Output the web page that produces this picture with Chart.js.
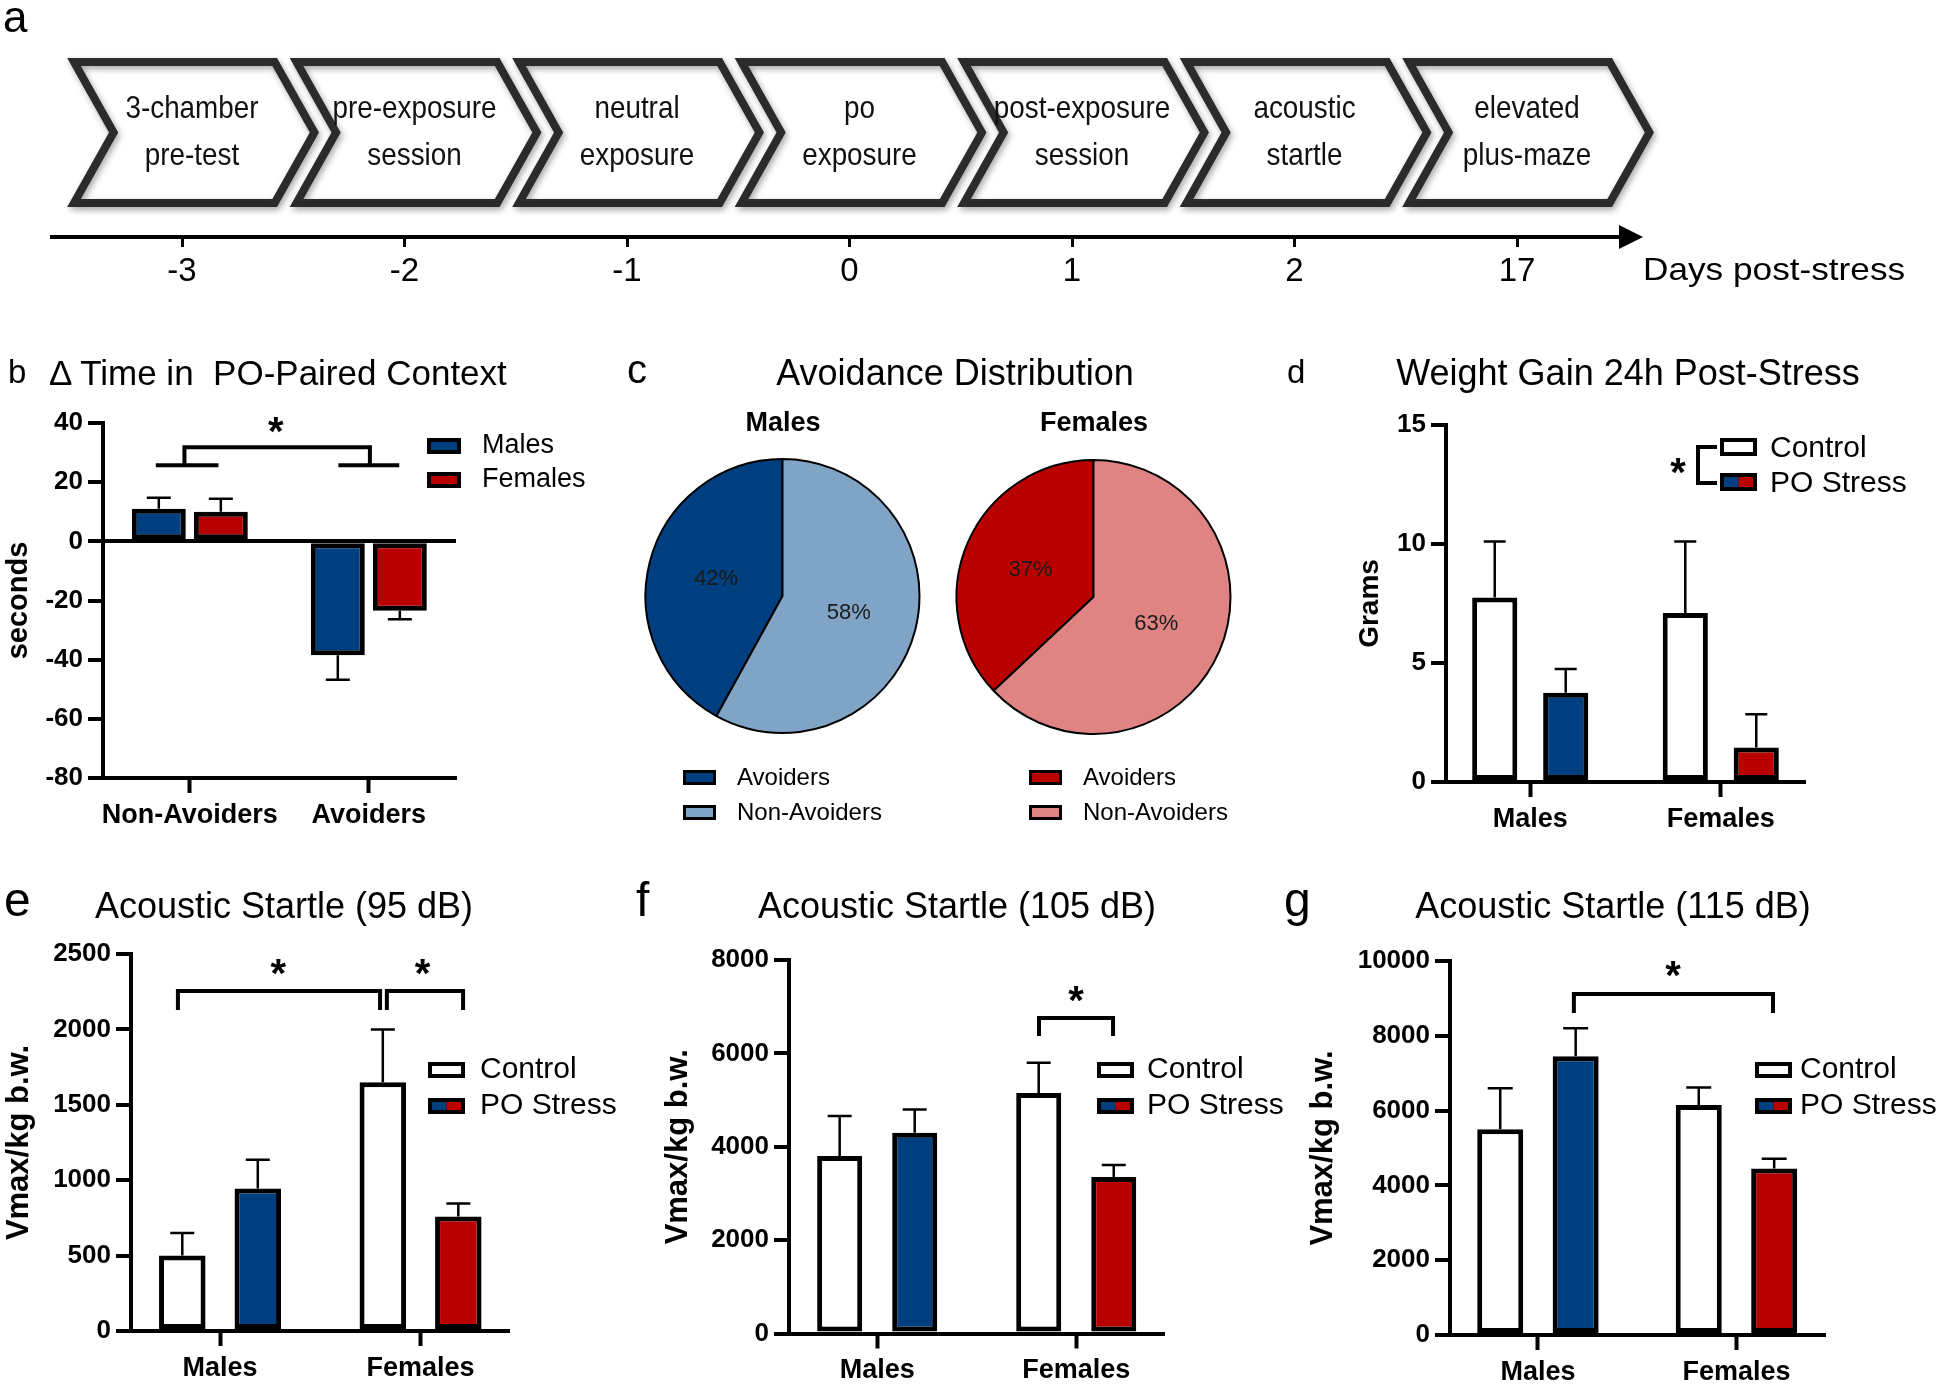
<!DOCTYPE html>
<html lang="en">
<head>
<meta charset="utf-8">
<title>PO stress figure</title>
<script src="https://cdn.jsdelivr.net/npm/chart.js@4.4.1/dist/chart.umd.min.js"></script>
<style>
  html, body { margin: 0; padding: 0; background: #fff; }
  #page { position: relative; width: 1946px; height: 1388px; overflow: hidden; background: #fff;
          font-family: Arial, "Liberation Sans", Helvetica, sans-serif; color: #000; }
  #page canvas { position: absolute; left: 0; top: 0; }
  .txt { position: absolute; white-space: pre; line-height: 1; }
</style>
</head>
<body>
<div id="page">
  <canvas id="chartA" width="1946" height="1388"></canvas>
  <canvas id="chartB" width="1946" height="1388"></canvas>
  <canvas id="chartCm" width="1946" height="1388"></canvas>
  <canvas id="chartCf" width="1946" height="1388"></canvas>
  <canvas id="chartD" width="1946" height="1388"></canvas>
  <canvas id="chartE" width="1946" height="1388"></canvas>
  <canvas id="chartF" width="1946" height="1388"></canvas>
  <canvas id="chartG" width="1946" height="1388"></canvas>
</div>
<script>
// ---- data ----

// a: timeline
const days = ['-3', '-2', '-1', '0', '1', '2', '17'];
const stages = [
  ['3-chamber', 'pre-test'],
  ['pre-exposure', 'session'],
  ['neutral', 'exposure'],
  ['po', 'exposure'],
  ['post-exposure', 'session'],
  ['acoustic', 'startle'],
  ['elevated', 'plus-maze']
];

// b: delta time in PO-paired context
const avoidGroups = ['Non-Avoiders', 'Avoiders'];
const sexLabels = ['Males', 'Females'];
const deltaMales = [11, -38.5];
const deltaMalesSem = [3.7, 8.3];
const deltaFemales = [10, -23.5];
const deltaFemalesSem = [4.4, 2.8];
const deltaTicks = [-80, -60, -40, -20, 0, 20, 40];

// c: avoidance distribution (%)
const pieLabels = ['Avoiders', 'Non-Avoiders'];
const malesPct = [42, 58];
const femalesPct = [37, 63];

// d-g: control vs PO stress
const sexes = ['Males', 'Females'];
const treatments = ['Control', 'PO Stress'];

const weightControl = [7.75, 7.1];
const weightControlSem = [2.35, 3.0];
const weightStress = [3.75, 1.45];
const weightStressSem = [1.0, 1.4];
const weightTicks = [0, 5, 10, 15];

const startle95Control = [500, 1650];
const startle95ControlSem = [150, 350];
const startle95Stress = [945, 760];
const startle95StressSem = [190, 85];
const startle95Ticks = [0, 500, 1000, 1500, 2000, 2500];

const startle105Control = [3800, 5150];
const startle105ControlSem = [860, 650];
const startle105Stress = [4300, 3350];
const startle105StressSem = [500, 260];
const startle105Ticks = [0, 2000, 4000, 6000, 8000];

const startle115Control = [5500, 6150];
const startle115ControlSem = [1100, 470];
const startle115Stress = [7450, 4450];
const startle115StressSem = [750, 260];
const startle115Ticks = [0, 2000, 4000, 6000, 8000, 10000];

// ---- styles ----
const W = 1946, H = 1388;
const FONT = 'Arial, "Liberation Sans", Helvetica, sans-serif';
const NAVY = '#003f7f';
const RED = '#b90000';
const SKY = '#80a4c6';
const ROSE = '#e08383';

Chart.defaults.font.family = FONT;
Chart.defaults.color = '#000';
Chart.defaults.animation = false;
Chart.defaults.events = [];
Chart.defaults.plugins.legend.display = false;
Chart.defaults.plugins.tooltip.enabled = false;

const page = document.getElementById('page');

// text helper: x is left (or centre), base is the baseline
function label(text, x, base, size, opts = {}) {
  const d = document.createElement('div');
  d.className = 'txt';
  d.textContent = text;
  d.style.fontSize = size + 'px';
  d.style.fontWeight = opts.bold ? 'bold' : 'normal';
  d.style.top = (base - 0.8465 * size) + 'px';
  d.style.left = x + 'px';
  let tf = opts.center ? 'translateX(-50%)' : '';
  if (opts.sx) { tf += ' scaleX(' + opts.sx + ')'; d.style.transformOrigin = opts.center ? 'center' : 'left'; }
  if (tf) d.style.transform = tf;
  page.appendChild(d);
}

function drawLegend(ctx, lg) {
  ctx.save();
  ctx.font = lg.size + 'px ' + FONT;
  ctx.textAlign = 'left';
  ctx.textBaseline = 'alphabetic';
  lg.items.forEach((it, i) => {
    const y = lg.y + i * lg.dy;
    const b = lg.border, iw = lg.w - 2 * b, ih = lg.h - 2 * b;
    ctx.fillStyle = '#000';
    ctx.fillRect(lg.x, y, lg.w, lg.h);
    it.fills.forEach((f, k) => {
      ctx.fillStyle = f;
      ctx.fillRect(lg.x + b + k * iw / it.fills.length, y + b, iw / it.fills.length, ih);
    });
    ctx.fillStyle = '#000';
    ctx.fillText(it.label, lg.tx, y + lg.base);
  });
  ctx.restore();
}

function drawStar(ctx, cx, cy) {
  ctx.save();
  ctx.font = 'bold 40px ' + FONT;
  ctx.textAlign = 'center';
  ctx.textBaseline = 'alphabetic';
  ctx.fillStyle = '#000';
  const m = ctx.measureText('*');
  ctx.fillText('*', cx, cy + (m.actualBoundingBoxAscent - m.actualBoundingBoxDescent) / 2);
  ctx.restore();
}

// ---- plugins ----

// SEM whiskers pointing away from zero
const errorBars = {
  id: 'errorBars',
  afterDatasetsDraw(chart, args, opts) {
    const ctx = chart.ctx, ys = chart.scales.y;
    ctx.save();
    ctx.strokeStyle = '#000';
    ctx.lineWidth = 2.5;
    chart.data.datasets.forEach((ds, di) => {
      chart.getDatasetMeta(di).data.forEach((bar, i) => {
        const v = ds.data[i].y, e = ds.sem[i];
        const base = ys.getPixelForValue(v);
        const tip = ys.getPixelForValue(v < 0 ? v - e : v + e);
        ctx.beginPath();
        ctx.moveTo(bar.x, base);
        ctx.lineTo(bar.x, tip);
        ctx.moveTo(bar.x - opts.cap / 2, tip);
        ctx.lineTo(bar.x + opts.cap / 2, tip);
        ctx.stroke();
      });
    });
    ctx.restore();
  }
};

// significance brackets, stars and legend
const marks = {
  id: 'marks',
  afterDraw(chart, args, opts) {
    const ctx = chart.ctx, xs = chart.scales.x, ys = chart.scales.y;
    const px = v => xs.getPixelForValue(v), py = v => ys.getPixelForValue(v);
    ctx.save();
    ctx.strokeStyle = '#000';
    ctx.lineWidth = 4;
    ctx.lineJoin = 'miter';
    (opts.brackets || []).forEach(b => {
      ctx.beginPath();
      ctx.moveTo(px(b.x1), py(b.drop));
      ctx.lineTo(px(b.x1), py(b.y));
      ctx.lineTo(px(b.x2), py(b.y));
      ctx.lineTo(px(b.x2), py(b.drop));
      ctx.stroke();
      (b.feet || []).forEach(f => {
        ctx.beginPath();
        ctx.moveTo(px(f[0]), py(b.drop));
        ctx.lineTo(px(f[1]), py(b.drop));
        ctx.stroke();
      });
    });
    (opts.keyLines || []).forEach(line => {
      ctx.beginPath();
      line.forEach((p, k) => k ? ctx.lineTo(p[0], p[1]) : ctx.moveTo(p[0], p[1]));
      ctx.stroke();
    });
    ctx.restore();
    (opts.stars || []).forEach(s => drawStar(ctx, px(s.x), py(s.y)));
    (opts.keyStars || []).forEach(s => drawStar(ctx, s[0], s[1]));
    if (opts.legend) drawLegend(ctx, opts.legend);
  }
};

const pieText = {
  id: 'pieText',
  afterDatasetsDraw(chart, args, opts) {
    const ctx = chart.ctx;
    const ds = chart.data.datasets[0];
    ctx.save();
    ctx.font = '22px ' + FONT;
    ctx.fillStyle = '#1a1a1a';
    ctx.textAlign = 'center';
    ctx.textBaseline = 'middle';
    chart.getDatasetMeta(0).data.forEach((arc, i) => {
      const p = arc.getProps(['x', 'y', 'startAngle', 'endAngle', 'outerRadius'], true);
      const a = (p.startAngle + p.endAngle) / 2, r = p.outerRadius * 0.5;
      ctx.fillText(ds.data[i] + '%', p.x + Math.cos(a) * r, p.y + Math.sin(a) * r);
    });
    ctx.restore();
    if (opts.legend) drawLegend(ctx, opts.legend);
  }
};

const timeline = {
  id: 'timeline',
  afterDraw(chart) {
    const ctx = chart.ctx, xs = chart.scales.x;
    const axisY = chart.chartArea.bottom;
    ctx.save();
    ctx.strokeStyle = '#000';
    ctx.fillStyle = '#000';
    ctx.lineWidth = 4;
    ctx.beginPath();
    ctx.moveTo(50, axisY);
    ctx.lineTo(1625, axisY);
    ctx.stroke();
    ctx.beginPath();
    ctx.moveTo(1619, axisY - 12);
    ctx.lineTo(1643, axisY);
    ctx.lineTo(1619, axisY + 12);
    ctx.closePath();
    ctx.fill();

    const top = 58, bottom = 207, mid = (top + bottom) / 2, depth = 42;
    stages.forEach((lines, i) => {
      const t = xs.getPixelForValue(i);
      const left = t - 115, right = t + 95;
      ctx.save();
      ctx.beginPath();
      ctx.moveTo(left + 7, top + 4);
      ctx.lineTo(right - 2.3, top + 4);
      ctx.lineTo(right + depth - 4.6, mid);
      ctx.lineTo(right - 2.3, bottom - 4);
      ctx.lineTo(left + 7, bottom - 4);
      ctx.lineTo(left + depth + 4.6, mid);
      ctx.closePath();
      ctx.fillStyle = '#fff';
      ctx.fill();
      ctx.shadowColor = 'rgba(0,0,0,0.35)';
      ctx.shadowBlur = 6;
      ctx.shadowOffsetX = 2;
      ctx.shadowOffsetY = 3;
      ctx.strokeStyle = '#2b2b2b';
      ctx.lineWidth = 8;
      ctx.lineJoin = 'miter';
      ctx.stroke();
      ctx.restore();

      ctx.save();
      ctx.fillStyle = '#111';
      ctx.font = '32px ' + FONT;
      ctx.textAlign = 'center';
      ctx.textBaseline = 'alphabetic';
      lines.forEach((s, k) => {
        ctx.save();
        ctx.translate(t + 10, k ? 165 : 118);
        ctx.scale(0.87, 1);
        ctx.fillText(s, 0, 0);
        ctx.restore();
      });
      ctx.restore();
    });
    ctx.restore();
  }
};

// ---- chart builders ----

function barChart(id, p) {
  const a = p.area;
  return new Chart(document.getElementById(id), {
    type: 'bar',
    data: {
      datasets: p.series.map(s => ({
        label: s.label,
        data: p.categories.map((c, i) => ({ x: i, y: s.values[i] })),
        sem: s.sem,
        backgroundColor: s.colors,
        borderColor: '#000',
        borderWidth: 5,
        borderSkipped: false,
        categoryPercentage: p.catPct,
        barPercentage: p.barPct
      }))
    },
    options: {
      responsive: false,
      layout: { padding: { left: a.l - p.yw, right: W - a.r, top: a.t, bottom: H - a.b - p.xh } },
      plugins: {
        errorBars: { cap: p.cap },
        marks: { brackets: p.brackets, stars: p.stars, keyLines: p.keyLines, keyStars: p.keyStars, legend: p.legend }
      },
      scales: {
        x: {
          type: 'linear', bounds: 'data', offset: false,
          min: p.xmin, max: p.xmax,
          afterBuildTicks: s => { s.ticks = p.categories.map((c, i) => ({ value: i })); },
          afterFit: s => { s.height = p.xh; },
          ticks: { callback: v => p.categories[v], font: { size: 27, weight: 'bold' }, padding: 6,
                   maxRotation: 0, autoSkip: false, color: '#000' },
          grid: { offset: false, drawOnChartArea: false, tickLength: 15, tickWidth: 4, tickColor: '#000', color: '#000' },
          border: { color: '#000', width: 4 }
        },
        y: {
          bounds: 'data',
          min: Math.min(...p.ticks), max: Math.max(...p.ticks),
          afterBuildTicks: s => { s.ticks = p.ticks.map(v => ({ value: v })); },
          afterFit: s => { s.width = p.yw; },
          ticks: { callback: v => String(v), font: { size: 26, weight: 'bold' }, padding: 5, color: '#000' },
          grid: {
            drawOnChartArea: !!p.zeroLine,
            color: c => (p.zeroLine && c.tick && c.tick.value === 0) ? '#000' : 'rgba(0,0,0,0)',
            lineWidth: 4, tickLength: 15, tickWidth: 4, tickColor: '#000'
          },
          border: { color: '#000', width: 4 },
          title: { display: true, text: p.yTitle, font: { size: p.yTitleSize, weight: 'bold' }, padding: 0, color: '#000' }
        }
      }
    },
    plugins: [errorBars, marks]
  });
}

function pieChart(id, p) {
  const half = 150;
  return new Chart(document.getElementById(id), {
    type: 'pie',
    data: {
      labels: pieLabels,
      datasets: [{
        data: p.values,
        backgroundColor: p.colors,
        borderColor: '#000',
        borderWidth: 2,
        rotation: -p.values[0] * 3.6
      }]
    },
    options: {
      responsive: false,
      radius: p.r,
      layout: { padding: { left: p.cx - half, right: W - p.cx - half, top: p.cy - half, bottom: H - p.cy - half } },
      plugins: { pieText: { legend: p.legend } }
    },
    plugins: [pieText]
  });
}

// ---- a: timeline ----
new Chart(document.getElementById('chartA'), {
  type: 'line',
  data: { labels: days, datasets: [] },
  options: {
    responsive: false,
    layout: { padding: { left: 70.75, right: W - 1628.25, top: 40, bottom: H - 237 - 60 } },
    scales: {
      x: {
        type: 'category', offset: true,
        afterFit: s => { s.height = 60; },
        grid: { offset: false, drawOnChartArea: false, tickLength: 10, tickWidth: 3, tickColor: '#000' },
        border: { display: false },
        ticks: { font: { size: 33 }, padding: 5, color: '#000', maxRotation: 0, autoSkip: false }
      },
      y: { display: false }
    }
  },
  plugins: [timeline]
});

// ---- b ----
barChart('chartB', {
  categories: avoidGroups,
  series: [
    { label: sexLabels[0], values: deltaMales, sem: deltaMalesSem, colors: NAVY },
    { label: sexLabels[1], values: deltaFemales, sem: deltaFemalesSem, colors: RED }
  ],
  ticks: deltaTicks, zeroLine: true,
  area: { l: 103, r: 456, t: 423, b: 778 }, yw: 101.4, xh: 70,
  xmin: -0.485, xmax: 1.487, catPct: 0.693, barPct: 0.87,
  yTitle: 'seconds', yTitleSize: 29, cap: 24,
  brackets: [{ x1: -0.03, x2: 1.006, y: 31.8, drop: 25.7, feet: [[-0.19, 0.16], [0.83, 1.17]] }],
  stars: [{ x: 0.48, y: 39.2 }],
  legend: { x: 427, y: 438, w: 34, h: 16, dy: 34, border: 4, tx: 482, base: 15, size: 27,
            items: [{ label: sexLabels[0], fills: [NAVY] }, { label: sexLabels[1], fills: [RED] }] }
});

// ---- c ----
pieChart('chartCm', {
  values: malesPct, colors: [NAVY, SKY], cx: 782.5, cy: 596, r: 137,
  legend: { x: 683, y: 770, w: 33, h: 15, dy: 35, border: 3, tx: 737, base: 15, size: 24,
            items: [{ label: pieLabels[0], fills: [NAVY] }, { label: pieLabels[1], fills: [SKY] }] }
});
pieChart('chartCf', {
  values: femalesPct, colors: [RED, ROSE], cx: 1093.5, cy: 597, r: 137,
  legend: { x: 1029, y: 770, w: 33, h: 15, dy: 35, border: 3, tx: 1083, base: 15, size: 24,
            items: [{ label: pieLabels[0], fills: [RED] }, { label: pieLabels[1], fills: [ROSE] }] }
});

// ---- d-g ----
function treatmentLegend(x, y, tx, dy, h, base) {
  return { x: x, y: y, w: 37, h: h, dy: dy, border: 4, tx: tx, base: base, size: 30,
           items: [{ label: treatments[0], fills: ['#fff'] }, { label: treatments[1], fills: [NAVY, RED] }] };
}

barChart('chartD', {
  categories: sexes,
  series: [
    { label: treatments[0], values: weightControl, sem: weightControlSem, colors: '#fff' },
    { label: treatments[1], values: weightStress, sem: weightStressSem, colors: [NAVY, RED] }
  ],
  ticks: weightTicks,
  area: { l: 1446, r: 1805, t: 425, b: 782 }, yw: 92.8, xh: 70,
  xmin: -0.442, xmax: 1.442, catPct: 0.745, barPct: 0.636,
  yTitle: 'Grams', yTitleSize: 28, cap: 22,
  keyLines: [[[1717, 447], [1698, 447], [1698, 483], [1717, 483]]],
  keyStars: [[1678, 466]],
  legend: treatmentLegend(1720, 438, 1770, 35, 18, 19)
});

barChart('chartE', {
  categories: sexes,
  series: [
    { label: treatments[0], values: startle95Control, sem: startle95ControlSem, colors: '#fff' },
    { label: treatments[1], values: startle95Stress, sem: startle95StressSem, colors: [NAVY, RED] }
  ],
  ticks: startle95Ticks,
  area: { l: 131, r: 509, t: 954, b: 1331 }, yw: 130.6, xh: 50,
  xmin: -0.444, xmax: 1.441, catPct: 0.753, barPct: 0.616,
  yTitle: 'Vmax/kg b.w.', yTitleSize: 31, cap: 24,
  brackets: [{ x1: -0.21, x2: 0.798, y: 2255, drop: 2129 }, { x1: 0.832, x2: 1.212, y: 2255, drop: 2129 }],
  stars: [{ x: 0.29, y: 2417 }, { x: 1.01, y: 2417 }],
  legend: treatmentLegend(428, 1062, 480, 36, 16, 16)
});

barChart('chartF', {
  categories: sexes,
  series: [
    { label: treatments[0], values: startle105Control, sem: startle105ControlSem, colors: '#fff' },
    { label: treatments[1], values: startle105Stress, sem: startle105StressSem, colors: [NAVY, RED] }
  ],
  ticks: startle105Ticks,
  area: { l: 789, r: 1164, t: 960, b: 1333.5 }, yw: 129.6, xh: 50,
  xmin: -0.443, xmax: 1.441, catPct: 0.754, barPct: 0.6,
  yTitle: 'Vmax/kg b.w.', yTitleSize: 31, cap: 24,
  brackets: [{ x1: 0.813, x2: 1.185, y: 6757, drop: 6372 }],
  stars: [{ x: 0.999, y: 7271 }],
  legend: treatmentLegend(1097, 1062, 1147, 36, 16, 16)
});

barChart('chartG', {
  categories: sexes,
  series: [
    { label: treatments[0], values: startle115Control, sem: startle115ControlSem, colors: '#fff' },
    { label: treatments[1], values: startle115Stress, sem: startle115StressSem, colors: [NAVY, RED] }
  ],
  ticks: startle115Ticks,
  area: { l: 1450, r: 1825, t: 961, b: 1335 }, yw: 145.6, xh: 50,
  xmin: -0.443, xmax: 1.446, catPct: 0.76, barPct: 0.61,
  yTitle: 'Vmax/kg b.w.', yTitleSize: 31, cap: 25,
  brackets: [{ x1: 0.181, x2: 1.184, y: 9118, drop: 8610 }],
  stars: [{ x: 0.68, y: 9786 }],
  legend: treatmentLegend(1755, 1062, 1800, 36, 16, 16)
});

// ---- titles and panel letters ----
label('a', 3, 32, 44);
label('Days post-stress', 1643, 280, 32, { sx: 1.1 });

label('b', 8, 383, 33);
label('\u0394 Time in  PO-Paired Context', 49, 385, 35);
label('c', 627, 383, 40);
label('Avoidance Distribution', 955, 385, 36, { center: true });
label(sexLabels[0], 783, 432, 27, { bold: true, center: true });
label(sexLabels[1], 1094, 432, 27, { bold: true, center: true });
label('d', 1287, 383, 33);
label('Weight Gain 24h Post-Stress', 1628, 385, 36, { center: true });

label('e', 4, 917, 48);
label('Acoustic Startle (95 dB)', 284, 918, 36, { center: true });
label('f', 636, 917, 48);
label('Acoustic Startle (105 dB)', 957, 918, 36, { center: true });
label('g', 1284, 917, 48);
label('Acoustic Startle (115 dB)', 1613, 918, 36, { center: true });
</script>
</body>
</html>
